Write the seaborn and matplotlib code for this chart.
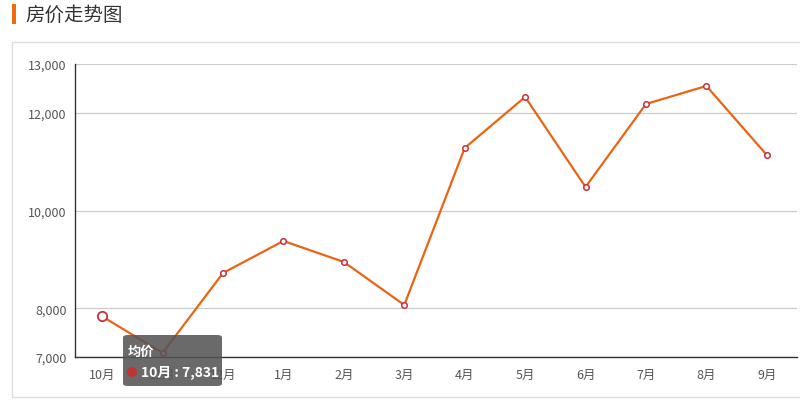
import seaborn as sns
import matplotlib.pyplot as plt
import pandas as pd
from matplotlib.patches import Rectangle, FancyBboxPatch, Ellipse

months = ['10月', '11月', '12月', '1月', '2月', '3月', '4月', '5月', '6月', '7月', '8月', '9月']
avg_price = [7831, 7082, 8720, 9376, 8946, 8065, 11280, 12325, 10481, 12181, 12550, 11137]
y_ticks = [7000, 8000, 10000, 12000, 13000]

sns.set_style('white')
plt.rcParams['font.family'] = ['Noto Sans CJK SC', 'DejaVu Sans']

W, H = 800, 406
fig = plt.figure(figsize=(W / 100, H / 100), dpi=100)


def fx(px):
    return px / W


def fy(py):
    return 1 - py / H


# outer frame and title
fig.patches.append(Rectangle((fx(12), fy(398)), fx(800) - fx(12) + 0.01, fy(43) - fy(398),
                             transform=fig.transFigure, fill=False, edgecolor='#dddddd', lw=1))
fig.patches.append(Rectangle((fx(12), fy(25)), fx(4), fy(5) - fy(25),
                             transform=fig.transFigure, facecolor='#f06a0f', edgecolor='none'))
fig.text(fx(25), fy(15), '房价走势图', fontsize=14, color='#333333', va='center', ha='left')

ax = fig.add_axes([fx(75), fy(358), fx(797) - fx(75), fy(65) - fy(358)])

df = pd.DataFrame({'month': months, 'price': avg_price})
df['idx'] = range(len(months))

ax.set_axisbelow(True)
for t in y_ticks:
    ax.axhline(t, color='#cccccc', lw=0.9, zorder=0)

sns.lineplot(data=df, x='idx', y='price', ax=ax, color='#ea6416', lw=1.6,
             marker='o', markersize=4, markerfacecolor='white',
             markeredgecolor='#c8303a', markeredgewidth=1.1, zorder=3)
# highlighted (hovered) point
sns.scatterplot(x=df['idx'][:1], y=df['price'][:1], ax=ax, s=45, facecolor='white',
                edgecolor='#c8303a', linewidth=1.3, zorder=4)

ax.set_xlim(-0.45, len(months) - 0.5)
ax.set_ylim(7000, 13000)
ax.set_yticks(y_ticks)
ax.set_yticklabels([f'{v:,}' for v in y_ticks])
ax.set_xticks(df['idx'])
ax.set_xticklabels(months)
ax.set_xticks([i - 0.5 for i in range(1, len(months) + 1)], minor=True)
ax.tick_params(axis='x', which='major', length=0, pad=8, labelsize=9, labelcolor='#555555')
ax.tick_params(axis='x', which='minor', length=4, width=1, color='#333333', direction='out')
ax.tick_params(axis='y', length=4, width=1, color='#333333', direction='out', pad=2,
               labelsize=9, labelcolor='#555555')
ax.set_xlabel('')
ax.set_ylabel('')
for s in ['top', 'right']:
    ax.spines[s].set_visible(False)
for s in ['left', 'bottom']:
    ax.spines[s].set_color('#333333')
    ax.spines[s].set_linewidth(1)

# tooltip
fig.patches.append(FancyBboxPatch((fx(123), fy(387)), fx(222) - fx(123), fy(336) - fy(387),
                                  boxstyle='round,pad=0,rounding_size=0.006',
                                  transform=fig.transFigure, facecolor='#555555',
                                  edgecolor='none', alpha=0.88, zorder=10))
fig.text(fx(128), fy(352), '均价', fontsize=9.5, color='white', fontweight='bold',
         va='center', ha='left', zorder=11)
fig.patches.append(Ellipse((fx(132), fy(373)), 10 / W, 10 / H, transform=fig.transFigure,
                           facecolor='#c23531', edgecolor='none', zorder=11))
fig.text(fx(141), fy(373), '10月 : 7,831', fontsize=10, color='white', fontweight='bold',
         va='center', ha='left', zorder=11)

fig.savefig('out.png', dpi=100)
plt.close(fig)
